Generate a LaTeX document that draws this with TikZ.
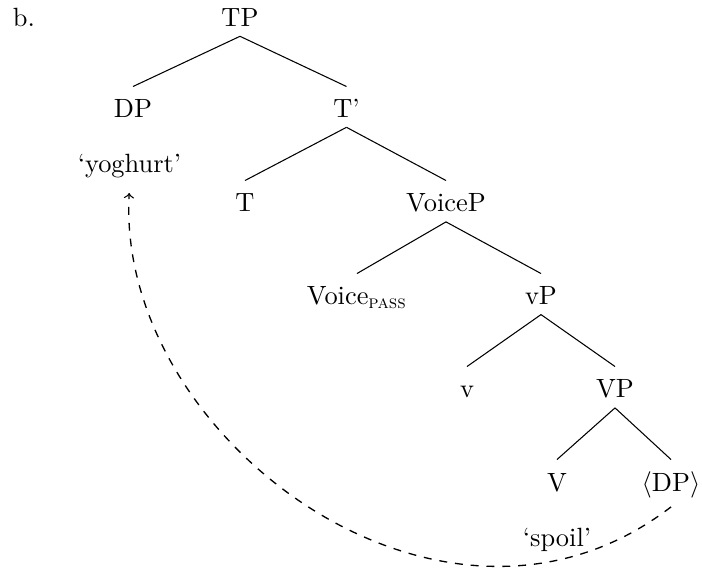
\documentclass[tikz,border=0pt]{standalone}
\begin{document}
\begin{tikzpicture}[x=0.379pt, y=-0.379pt,
  tn/.style={anchor=base, inner sep=3.33pt, text height=8.4pt},
  gl/.style={anchor=base, inner sep=3.33pt},
  br/.style={draw=black, line width=0.4pt},
  mv/.style={->, dashed, line width=0.5pt, shorten >=2pt}]
\useasboundingbox (0,0) rectangle (702,569);
\node[gl] (lab) at (24,27) {b.};
\node[tn] (tp) at (240,27) {TP};
\node[tn] (dp) at (133,118) {DP};
\node[tn] (tbar) at (346.5,118) {T'};
\node[gl] (yog) at (129.5,173) {`yoghurt'};
\node[tn] (t) at (245,212) {T};
\node[tn] (voicep) at (446,212) {VoiceP};
\node[tn] (voice) at (357,305) {Voice\textsubscript{\textsc{pass}}};
\node[tn] (vp) at (541,305) {vP};
\node[tn] (v) at (467,398) {v};
\node[tn] (bigvp) at (615,398) {VP};
\node[tn] (bigv) at (557,491) {V};
\node[tn] (dpt) at (671,491) {$\langle$DP$\rangle$};
\node[gl] (spoil) at (557,546) {`spoil'};
\draw[br] (tp.south) -- (dp.north);
\draw[br] (tp.south) -- (tbar.north);
\draw[br] (tbar.south) -- (t.north);
\draw[br] (tbar.south) -- (voicep.north);
\draw[br] (voicep.south) -- (voice.north);
\draw[br] (voicep.south) -- (vp.north);
\draw[br] (vp.south) -- (v.north);
\draw[br] (vp.south) -- (bigvp.north);
\draw[br] (bigvp.south) -- (bigv.north);
\draw[br] (bigvp.south) -- (dpt.north);
\draw[mv] (dpt.south) .. controls +(-227,175) and +(-14,251) .. (yog.south);
\end{tikzpicture}
\end{document}
